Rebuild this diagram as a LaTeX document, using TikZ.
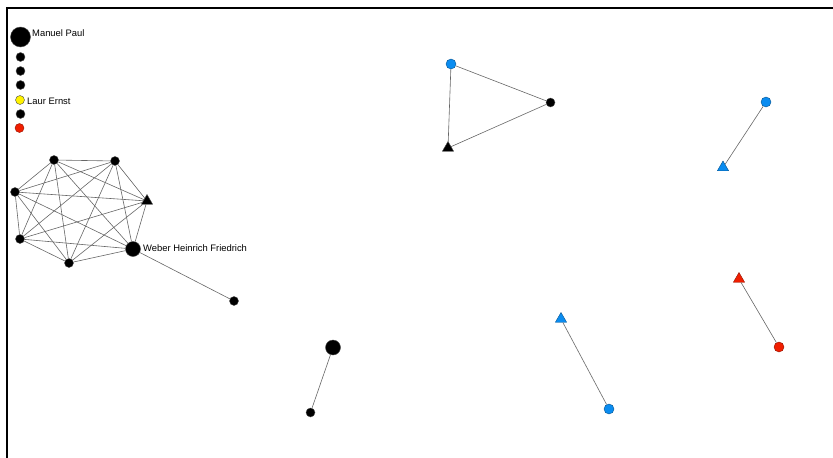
\documentclass[tikz,border=0pt]{standalone}
\usepackage{fontspec}
\setmainfont{Liberation Sans}
\usetikzlibrary{shapes.geometric}
\definecolor{netblue}{RGB}{10,140,240}
\definecolor{netred}{RGB}{240,30,0}
\tikzset{
	actor/.style={circle,draw=black!70,fill=black,inner sep=0pt,minimum size=9pt},
	bigactor/.style={actor,minimum size=15pt},
	tri/.style={regular polygon,regular polygon sides=3,draw=black!70,fill=black,inner sep=0pt,minimum size=13pt},
	tie/.style={draw=black!60,line width=0.6pt},
	lbl/.style={anchor=west,inner sep=0pt,font=\fontsize{9.4}{11}\selectfont}
}
\begin{document}
\begin{tikzpicture}[x=1pt,y=-1pt]
	\useasboundingbox (0,0) rectangle (833,458);
	\draw[line width=2pt] (7,458) -- (7,8) -- (833,8);
	
	% isolates
	\node[actor,minimum size=20pt] (MP) at(20.5,37) {};
	\node[actor] (I1) at(20.5,57) {};
	\node[actor] (I2) at(20.5,71) {};
	\node[actor] (I3) at(20.5,85) {};
	\node[actor,fill=yellow] (LE) at(20,100) {};
	\node[actor] (I4) at(20.5,114) {};
	\node[actor,fill=netred,draw=netred!60!black] (I5) at(19.5,128) {};
	\node[lbl] (MPt) at(32,33) {Manuel Paul};
	\node[lbl] (LEt) at(27,101.5) {Laur Ernst};
	
	% clique
	\node[actor] (K1) at(54,160) {};
	\node[actor] (K2) at(115,161) {};
	\node[actor] (K3) at(15,192) {};
	\node[tri] (K4) at(147,201) {};
	\node[actor] (K5) at(20,239) {};
	\node[actor] (K6) at(69,263) {};
	\node[bigactor] (WH) at(133,249) {};
	\node[actor] (P1) at(234,301) {};
	\node[lbl] (WHt) at(143,248.5) {Weber Heinrich Friedrich};
	
	\draw[tie] (K1)--(K2) (K1)--(K3) (K1)--(K4) (K1)--(K5) (K1)--(K6) (K1)--(WH);
	\draw[tie] (K2)--(K3) (K2)--(K4) (K2)--(K5) (K2)--(K6) (K2)--(WH);
	\draw[tie] (K3)--(K4) (K3)--(K5) (K3)--(K6) (K3)--(WH);
	\draw[tie] (K4)--(K5) (K4)--(K6) (K4)--(WH);
	\draw[tie] (K5)--(K6) (K5)--(WH);
	\draw[tie] (K6)--(WH);
	\draw[tie] (WH)--(P1);
	
	% triad
	\node[actor,minimum size=10pt,fill=netblue,draw=netblue!60!black] (T1) at(451,64) {};
	\node[actor] (T2) at(550.5,102.5) {};
	\node[tri] (T3) at(448,148) {};
	\draw[tie] (T1)--(T2) (T2)--(T3) (T3)--(T1);
	
	% dyads
	\node[actor,minimum size=10pt,fill=netblue,draw=netblue!60!black] (D1) at(766,102) {};
	\node[tri,fill=netblue,draw=netblue!60!black] (D2) at(723,167.5) {};
	\node[tri,fill=netred,draw=netred!60!black] (D3) at(739,279) {};
	\node[actor,minimum size=10pt,fill=netred,draw=netred!60!black] (D4) at(779,347) {};
	\node[bigactor] (D5) at(333,347.5) {};
	\node[actor] (D6) at(310.5,412.5) {};
	\node[tri,fill=netblue,draw=netblue!60!black] (D7) at(561,319) {};
	\node[actor,minimum size=10pt,fill=netblue,draw=netblue!60!black] (D8) at(609,409) {};
	\draw[tie] (D1)--(D2) (D3)--(D4) (D5)--(D6) (D7)--(D8);
\end{tikzpicture}
\end{document}
